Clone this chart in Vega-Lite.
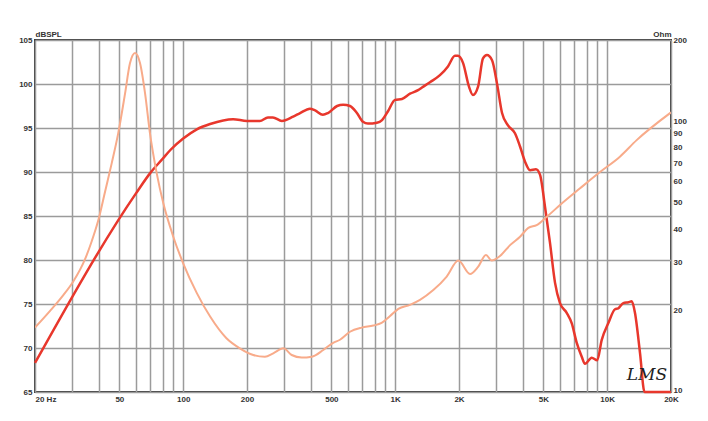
{
  "$schema": "https://vega.github.io/schema/vega-lite/v6.json",
  "width": 636,
  "height": 352,
  "autosize": {"type": "none"},
  "padding": {"left": 35, "top": 40, "right": 37, "bottom": 29},
  "background": "white",
  "config": {
    "view": {"stroke": "#3a3a3a", "strokeWidth": 2},
    "axis": {
      "labelFont": "Liberation Sans",
      "labelFontSize": 8,
      "labelFontWeight": "bold",
      "labelColor": "#333333",
      "ticks": false,
      "domain": false,
      "titleFont": "Liberation Sans",
      "titleFontSize": 8,
      "titleFontWeight": "bold",
      "titleColor": "#333333",
      "gridColor": "#9b9b9b",
      "gridWidth": 1.5,
      "gridOpacity": 1,
      "labelOverlap": false,
      "labelBound": false
    }
  },
  "datasets": {
    "spl": [
      {"freq": 20, "db": 68.3}, {"freq": 60, "db": 87.6},
      {"freq": 70, "db": 89.9}, {"freq": 80, "db": 91.5}, {"freq": 87, "db": 92.5},
      {"freq": 100, "db": 93.8}, {"freq": 116, "db": 94.85}, {"freq": 134, "db": 95.45},
      {"freq": 172, "db": 96.0}, {"freq": 200, "db": 95.8}, {"freq": 230, "db": 95.8},
      {"freq": 251, "db": 96.2}, {"freq": 265, "db": 96.2}, {"freq": 292, "db": 95.8},
      {"freq": 330, "db": 96.3}, {"freq": 356, "db": 96.7}, {"freq": 396, "db": 97.2},
      {"freq": 419, "db": 97.0}, {"freq": 456, "db": 96.5}, {"freq": 482, "db": 96.7},
      {"freq": 532, "db": 97.5}, {"freq": 568, "db": 97.65}, {"freq": 612, "db": 97.5},
      {"freq": 660, "db": 96.7}, {"freq": 705, "db": 95.7}, {"freq": 744, "db": 95.5},
      {"freq": 820, "db": 95.6}, {"freq": 867, "db": 95.9}, {"freq": 925, "db": 96.9},
      {"freq": 998, "db": 98.2}, {"freq": 1077, "db": 98.3}, {"freq": 1175, "db": 98.9},
      {"freq": 1282, "db": 99.3}, {"freq": 1338, "db": 99.6}, {"freq": 1459, "db": 100.2},
      {"freq": 1626, "db": 101.0}, {"freq": 1774, "db": 102.0}, {"freq": 1914, "db": 103.2},
      {"freq": 1978, "db": 103.2}, {"freq": 2089, "db": 102.4}, {"freq": 2229, "db": 99.7},
      {"freq": 2328, "db": 98.75}, {"freq": 2460, "db": 99.7}, {"freq": 2595, "db": 102.9},
      {"freq": 2710, "db": 103.3}, {"freq": 2864, "db": 102.7}, {"freq": 3020, "db": 100.1},
      {"freq": 3192, "db": 96.7}, {"freq": 3405, "db": 95.3}, {"freq": 3673, "db": 94.4},
      {"freq": 3881, "db": 92.9}, {"freq": 4094, "db": 91.2}, {"freq": 4326, "db": 90.2},
      {"freq": 4614, "db": 90.3}, {"freq": 4819, "db": 89.7}, {"freq": 5093, "db": 86.0},
      {"freq": 5370, "db": 82.0}, {"freq": 5676, "db": 77.4}, {"freq": 5990, "db": 75.1},
      {"freq": 6442, "db": 74.0}, {"freq": 6808, "db": 72.8}, {"freq": 7180, "db": 70.6},
      {"freq": 7586, "db": 69.0}, {"freq": 7855, "db": 68.2}, {"freq": 8453, "db": 68.9},
      {"freq": 8974, "db": 68.6}, {"freq": 9419, "db": 70.9}, {"freq": 10116, "db": 72.8},
      {"freq": 10890, "db": 74.4}, {"freq": 11272, "db": 74.5}, {"freq": 11914, "db": 75.1},
      {"freq": 12590, "db": 75.2}, {"freq": 13060, "db": 75.3}, {"freq": 13520, "db": 74.0},
      {"freq": 14290, "db": 69.4}, {"freq": 15000, "db": 65.0}, {"freq": 20000, "db": 65.0}
    ],
    "imp": [
      {"freq": 20, "ohm": 17.3}, {"freq": 23.5, "ohm": 19.9}, {"freq": 27.2, "ohm": 22.8},
      {"freq": 30.3, "ohm": 25.6}, {"freq": 34.4, "ohm": 30.9}, {"freq": 37, "ohm": 36.0},
      {"freq": 39.8, "ohm": 43.2}, {"freq": 42.8, "ohm": 55.0}, {"freq": 46, "ohm": 70.0},
      {"freq": 49.4, "ohm": 90.5}, {"freq": 53.2, "ohm": 127}, {"freq": 56.1, "ohm": 164},
      {"freq": 59.3, "ohm": 179}, {"freq": 62.6, "ohm": 164}, {"freq": 66.1, "ohm": 127},
      {"freq": 69.7, "ohm": 90.5}, {"freq": 75, "ohm": 64.4}, {"freq": 80.6, "ohm": 49.8},
      {"freq": 89.8, "ohm": 37.5}, {"freq": 100, "ohm": 29.9}, {"freq": 116, "ohm": 23.2},
      {"freq": 134, "ohm": 19.0}, {"freq": 160, "ohm": 15.8}, {"freq": 185, "ohm": 14.5},
      {"freq": 214, "ohm": 13.7}, {"freq": 243, "ohm": 13.5}, {"freq": 266, "ohm": 13.9},
      {"freq": 297, "ohm": 14.5}, {"freq": 325, "ohm": 13.7}, {"freq": 362, "ohm": 13.4},
      {"freq": 404, "ohm": 13.5}, {"freq": 458, "ohm": 14.3}, {"freq": 510, "ohm": 15.2},
      {"freq": 549, "ohm": 15.6}, {"freq": 612, "ohm": 16.7}, {"freq": 695, "ohm": 17.3},
      {"freq": 789, "ohm": 17.6}, {"freq": 863, "ohm": 18.0}, {"freq": 946, "ohm": 19.1},
      {"freq": 1035, "ohm": 20.3}, {"freq": 1175, "ohm": 21.0}, {"freq": 1309, "ohm": 21.9},
      {"freq": 1513, "ohm": 23.8}, {"freq": 1750, "ohm": 26.7}, {"freq": 1986, "ohm": 30.6},
      {"freq": 2254, "ohm": 27.3}, {"freq": 2460, "ohm": 29.0}, {"freq": 2681, "ohm": 32.1},
      {"freq": 2852, "ohm": 30.6}, {"freq": 3120, "ohm": 31.8}, {"freq": 3483, "ohm": 34.9},
      {"freq": 3881, "ohm": 37.5}, {"freq": 4246, "ohm": 40.4}, {"freq": 4648, "ohm": 41.4},
      {"freq": 5185, "ohm": 44.4}, {"freq": 5990, "ohm": 49.1}, {"freq": 7448, "ohm": 56.6},
      {"freq": 9247, "ohm": 65.0}, {"freq": 11481, "ohm": 74.1}, {"freq": 13775, "ohm": 85.3},
      {"freq": 20000, "ohm": 108}
    ],
    "logo": [{"freq": 15400, "db": 66.9, "label": "LMS"}]
  },
  "layer": [
    {
      "data": {"name": "spl"},
      "mark": {"type": "line", "color": "#e8372c", "strokeWidth": 2.5, "interpolate": "monotone", "clip": false},
      "encoding": {
        "x": {
          "field": "freq", "type": "quantitative",
          "scale": {"type": "log", "domain": [20, 20000]},
          "axis": {
            "title": null,
            "values": [20, 30, 40, 50, 60, 70, 80, 90, 100, 200, 300, 400, 500, 600, 700, 800, 900, 1000, 2000, 3000, 4000, 5000, 6000, 7000, 8000, 9000, 10000, 20000],
            "labelExpr": "indexof([20,50,100,200,500,1000,2000,5000,10000,20000], datum.value) >= 0 ? (datum.value == 20 ? '20  Hz' : (datum.value >= 1000 ? (datum.value / 1000) + 'K' : '' + datum.value)) : ''",
            "labelAlign": {"condition": {"test": "datum.value == 20", "value": "left"}, "value": "center"},
            "labelPadding": 3
          }
        },
        "y": {
          "field": "db", "type": "quantitative",
          "scale": {"domain": [65, 105]},
          "axis": {
            "title": "dBSPL",
            "titleAngle": 0, "titleAlign": "left", "titleBaseline": "bottom",
            "titleX": 0, "titleY": -2,
            "values": [65, 70, 75, 80, 85, 90, 95, 100, 105],
            "labelPadding": 3
          }
        }
      }
    },
    {
      "data": {"name": "imp"},
      "mark": {"type": "line", "color": "#f8ab8a", "strokeWidth": 2, "interpolate": "monotone", "clip": true},
      "encoding": {
        "x": {"field": "freq", "type": "quantitative", "scale": {"type": "log", "domain": [20, 20000]}},
        "y": {
          "field": "ohm", "type": "quantitative",
          "scale": {"type": "log", "domain": [10, 200]},
          "axis": {
            "orient": "right",
            "grid": false,
            "title": "Ohm",
            "titleAngle": 0, "titleAlign": "right", "titleBaseline": "bottom",
            "titleX": 0, "titleY": -2,
            "values": [10, 20, 30, 40, 50, 60, 70, 80, 90, 100, 200],
            "labelExpr": "'' + datum.value",
            "labelOffset": {"condition": {"test": "datum.value == 10", "value": -2}, "value": 0},
            "labelPadding": 2
          }
        }
      }
    },
    {
      "data": {"name": "logo"},
      "mark": {"type": "text", "font": "DejaVu Serif", "fontStyle": "italic", "fontSize": 17, "color": "#222222", "align": "center", "baseline": "middle"},
      "encoding": {
        "x": {"field": "freq", "type": "quantitative", "scale": {"type": "log", "domain": [20, 20000]}},
        "y": {"field": "db", "type": "quantitative", "scale": {"domain": [65, 105]}, "axis": null},
        "text": {"field": "label"}
      }
    }
  ],
  "resolve": {"scale": {"y": "independent"}}
}
